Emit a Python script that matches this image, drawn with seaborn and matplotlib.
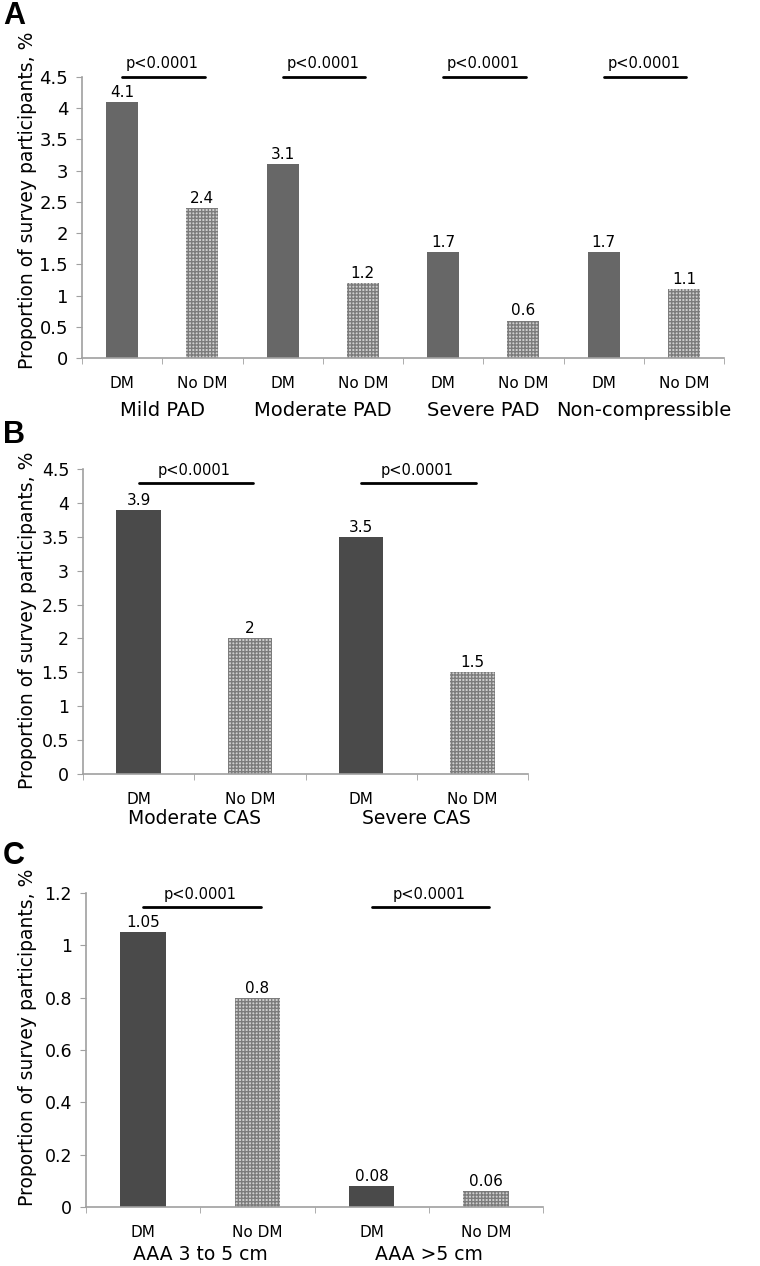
import numpy as np
import pandas as pd
import matplotlib
matplotlib.use("Agg")
import matplotlib.pyplot as plt
import seaborn as sns

# data
pad_groups = ["Mild PAD", "Moderate PAD", "Severe PAD", "Non-compressible"]
pad_dm = [4.1, 3.1, 1.7, 1.7]
pad_nodm = [2.4, 1.2, 0.6, 1.1]

cas_groups = ["Moderate CAS", "Severe CAS"]
cas_dm = [3.9, 3.5]
cas_nodm = [2.0, 1.5]

aaa_groups = ["AAA 3 to 5 cm", "AAA >5 cm"]
aaa_dm = [1.05, 0.08]
aaa_nodm = [0.8, 0.06]

status = ["DM", "No DM"]
p_text = "p<0.0001"

sns.set_style("white")
plt.rcParams["font.family"] = ["DejaVu Sans"]
plt.rcParams["hatch.linewidth"] = 1.0
for k in ["text.color", "axes.labelcolor", "xtick.labelcolor", "ytick.labelcolor"]:
    plt.rcParams[k] = "black"

W, H = 760, 1266
fig = plt.figure(figsize=(W / 100, H / 100), dpi=100)


def ax_rect(l, r, top, bot):
    return [l / W, 1 - bot / H, (r - l) / W, (bot - top) / H]


def draw_panel(ax, groups, dm, nodm, dm_color, ymax, ystep, pline, ylab_y,
               ylab_x, ytick_size, grp_off, grp_size):
    rows = []
    for g, a, b in zip(groups, dm, nodm):
        rows.append({"key": g + "|DM", "status": "DM", "val": a})
        rows.append({"key": g + "|No DM", "status": "No DM", "val": b})
    df = pd.DataFrame(rows)
    order = list(df["key"])
    sns.barplot(data=df, x="key", y="val", hue="status", order=order,
                hue_order=status, dodge=False, width=0.4, ax=ax,
                palette={"DM": dm_color, "No DM": "#d0d0d0"},
                edgecolor="none", legend=False)
    for p in ax.containers[1]:
        p.set_hatch("+++++")
        p.set_edgecolor("#7c7c7c")
        p.set_linewidth(0)
    # value labels
    for cont in ax.containers:
        for p in cont:
            h = p.get_height()
            if np.isnan(h):
                continue
            ax.annotate(f"{h:g}", (p.get_x() + p.get_width() / 2, h),
                        xytext=(0, 1.5), textcoords="offset points",
                        ha="center", va="bottom", fontsize=11)
    n = len(order)
    ax.set_xlim(-0.5, n - 0.5)
    ax.set_ylim(0, ymax)
    ticks = np.arange(0, ymax + ystep / 2, ystep)
    ax.set_yticks(ticks)
    ax.set_yticklabels([f"{v:g}" for v in ticks], fontsize=ytick_size)
    ax.set_xticks(range(n))
    ax.set_xticklabels([k.split("|")[1] for k in order], fontsize=11)
    ax.set_xticks(np.arange(-0.5, n, 1), minor=True)
    ax.tick_params(axis="x", which="major", length=0, pad=13)
    ax.tick_params(axis="x", which="minor", length=4, color="#a0a0a0",
                   direction="out", bottom=True)
    ax.tick_params(axis="y", length=4, color="#a0a0a0", direction="out",
                   left=True, pad=6)
    ax.set_xlabel("")
    ax.set_ylabel("Proportion of survey participants, %", fontsize=13.5)
    ax.yaxis.set_label_coords(ylab_x, ylab_y)
    sns.despine(ax=ax)
    for s in ["left", "bottom"]:
        ax.spines[s].set_color("#a0a0a0")
        ax.spines[s].set_linewidth(1.2)
    # group labels
    for i, g in enumerate(groups):
        ax.annotate(g, (2 * i + 0.5, 0), xycoords=("data", "axes fraction"),
                    xytext=(0, -grp_off), textcoords="offset points",
                    ha="center", va="center", fontsize=grp_size)
    # p-value bars
    for i in range(len(groups)):
        ax.plot([2 * i, 2 * i + 1.03], [pline, pline], color="black", lw=2,
                clip_on=False)
        ax.annotate(p_text, (2 * i + 0.5, pline), xytext=(0, 4),
                    textcoords="offset points", ha="center", va="bottom",
                    fontsize=10.5, annotation_clip=False)


axA = fig.add_axes(ax_rect(82, 724, 77, 358))
draw_panel(axA, pad_groups, pad_dm, pad_nodm, "#676767", 4.5, 0.5, 4.5,
           0.56, -0.070, 13, 38, 14)
axB = fig.add_axes(ax_rect(83, 528, 469, 774))
draw_panel(axB, cas_groups, cas_dm, cas_nodm, "#4a4a4a", 4.5, 0.5, 4.29,
           0.505, -0.103, 12.5, 32, 13.5)
axC = fig.add_axes(ax_rect(86, 543, 893, 1207))
draw_panel(axC, aaa_groups, aaa_dm, aaa_nodm, "#4a4a4a", 1.2, 0.2, 1.146,
           0.54, -0.107, 12.5, 34, 13.5)

for lab, y in [("A", 16), ("B", 435), ("C", 856)]:
    fig.text(3 / W, 1 - y / H, lab, fontsize=22, fontweight="bold",
             va="center", ha="left", family=["Liberation Sans", "DejaVu Sans"])

fig.savefig("out.png", dpi=100)
